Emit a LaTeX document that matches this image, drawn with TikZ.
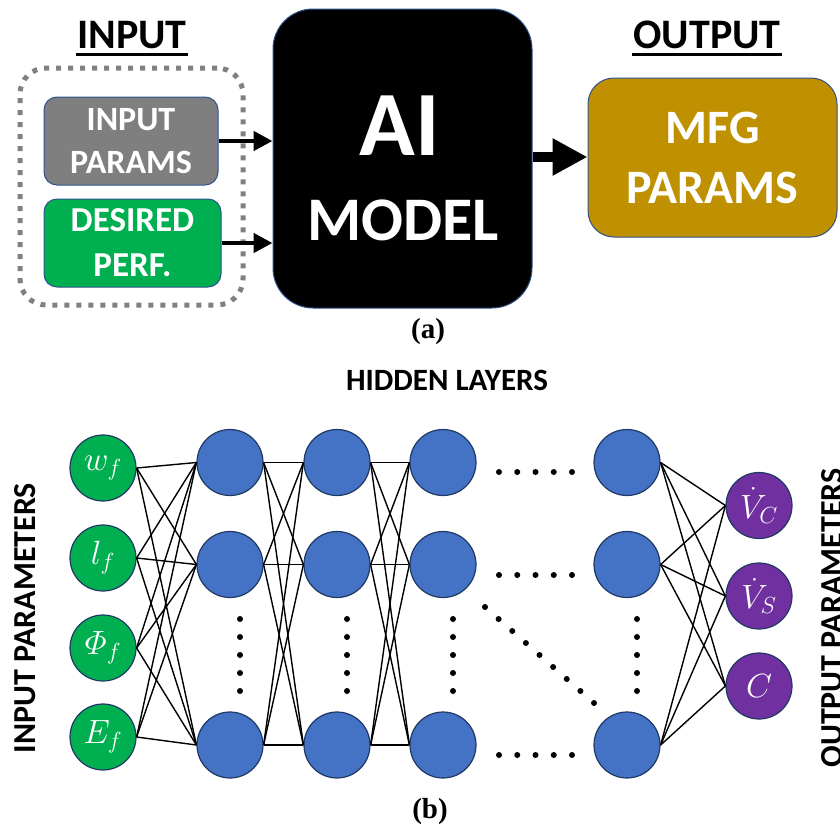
\documentclass[tikz,border=0pt]{standalone}
\usepackage{amsmath}
\usepackage{graphicx}
\usepackage{fontspec}
\setmainfont{Carlito}
\newfontfamily\capfont{Liberation Serif}
\usetikzlibrary{arrows.meta}
\newcommand\mathlab[1]{\scalebox{1.35}{$#1$}}
\definecolor{boxgray}{HTML}{7F7F7F}
\definecolor{dotgray}{HTML}{808080}
\definecolor{perfgreen}{HTML}{00B050}
\definecolor{mfggold}{HTML}{BF9000}
\definecolor{nodeblue}{HTML}{4472C4}
\definecolor{edgeblue}{HTML}{2F528F}
\definecolor{darkedge}{HTML}{203864}
\definecolor{outpurple}{HTML}{7030A0}
\tikzset{
  rbox/.style={draw=edgeblue, line width=1pt, inner sep=0pt, text=white, align=center, font=\bfseries},
  heading/.style={font=\fontsize{42}{42}\selectfont\bfseries, anchor=base, inner sep=0pt},
  thinarrow/.style={line width=4.5pt, -{Triangle[length=19pt,width=19pt]}},
  bigarrow/.style={line width=10pt, -{Triangle[length=35pt,width=35pt]}},
  neuron/.style={circle, draw=darkedge, line width=1.2pt, minimum size=66pt, inner sep=0pt, text=white, font=\fontsize{24}{24}\selectfont},
  innode/.style={neuron, fill=perfgreen},
  hidnode/.style={neuron, fill=nodeblue},
  outnode/.style={neuron, fill=outpurple},
  link/.style={line width=1.4pt, black},
  dotmark/.style={fill=black},
  sidelabel/.style={font=\fontsize{32}{32}\selectfont\bfseries, rotate=90, anchor=base, inner sep=0pt},
  caption/.style={font=\fontsize{29}{29}\selectfont\capfont\bfseries, inner sep=0pt}
}
\begin{document}
\begin{tikzpicture}[x=1pt,y=-1pt]
\useasboundingbox (0,0) rectangle (840,835);
% ---------- part (a)
\node[heading] (inhead) at (132,48) {INPUT};
\draw[line width=2.5pt] (76,54.5) -- (188,54.5);
\node[heading] (outhead) at (707,48) {OUTPUT};
\draw[line width=2.5pt] (632,54.5) -- (782,54.5);

\node[draw=dotgray, line width=5pt, dash pattern=on 5pt off 7pt, rounded corners=26pt,
      minimum width=223pt, minimum height=237pt] (group) at (131.5,186.5) {};

\node[rbox, fill=boxgray, rounded corners=13pt, minimum width=174pt, minimum height=88pt,
      font=\fontsize{34}{43}\selectfont\bfseries] (inp) at (131,141) {INPUT\\PARAMS};
\node[rbox, fill=perfgreen, rounded corners=13pt, minimum width=177pt, minimum height=88pt,
      font=\fontsize{35}{45}\selectfont\bfseries] (des) at (132.5,243) {DESIRED\\PERF.};

\node[draw=edgeblue, line width=1pt, fill=black, rounded corners=40pt,
      minimum width=259pt, minimum height=299pt, inner sep=0pt] (ai) at (402.5,158.5) {};
\node[anchor=base, text=white, font=\fontsize{92}{92}\selectfont\bfseries, inner sep=0pt] (aitext) at (400,155) {AI};
\node[anchor=base, text=white, font=\fontsize{62}{62}\selectfont\bfseries, inner sep=0pt] (modeltext) at (403,240) {MODEL};

\node[rbox, fill=mfggold, rounded corners=26pt, minimum width=249pt, minimum height=159pt,
      font=\fontsize{48}{60}\selectfont\bfseries] (mfg) at (712.5,157.5) {MFG\\PARAMS};

\draw[thinarrow] (inp.east) -- (inp.east -| ai.west);
\draw[thinarrow] (des.east) -- (des.east -| ai.west);
\draw[bigarrow] (ai.east |- 0,157) -- (mfg.west |- 0,157);

\node[caption] (capa) at (428,332) {(a)};

% ---------- part (b)
\node[font=\fontsize{31}{31}\selectfont\bfseries, inner sep=0pt] (hidhead) at (447,380) {HIDDEN LAYERS};

\node[innode] (i1) at (103,468) {\mathlab{w_f}};
\node[innode] (i2) at (103,558) {\mathlab{l_f}};
\node[innode] (i3) at (103,648) {\mathlab{\varPhi_f}};
\node[innode] (i4) at (103,737) {\mathlab{E_f}};

\foreach \c/\x in {1/230,2/337,3/443,4/627}{
  \node[hidnode] (h\c1) at (\x,462.5) {};
  \node[hidnode] (h\c2) at (\x,564.5) {};
  \node[hidnode] (h\c3) at (\x,745) {};
}

\node[outnode] (o1) at (759,505.5) {\mathlab{\dot{V}_{C}}};
\node[outnode] (o2) at (759,596) {\mathlab{\dot{V}_{S}}};
\node[outnode] (o3) at (759,686) {\mathlab{C}};

% links
\foreach \i in {1,...,4}{
  \foreach \j in {1,2,3}{
    \draw[link] (i\i.east) -- (h1\j.west);
  }
}
\foreach \a/\b in {1/2,2/3}{
  \foreach \i in {1,2,3}{
    \foreach \j in {1,2,3}{
      \draw[link] (h\a\i.east) -- (h\b\j.west);
    }
  }
}
\foreach \i in {1,2,3}{
  \foreach \j in {1,2,3}{
    \draw[link] (h4\i.east) -- (o\j.west);
  }
}

% dots
\foreach \y in {472,575,755}{
  \foreach \k in {0,...,4}{
    \fill[dotmark] (499+18.25*\k,\y) circle (3pt);
  }
}
\foreach \x in {240,347,453,637}{
  \foreach \k in {0,...,4}{
    \fill[dotmark] (\x,619+18*\k) circle (3pt);
  }
}
\foreach \k in {0,...,8}{
  \fill[dotmark] (485+13.625*\k,607+12*\k) circle (3pt);
}

\node[sidelabel] (inlab) at (35,618) {INPUT PARAMETERS};
\node[sidelabel] (outlab) at (842,618) {OUTPUT PARAMETERS};

\node[caption] (capb) at (430,812) {(b)};
\end{tikzpicture}
\end{document}
